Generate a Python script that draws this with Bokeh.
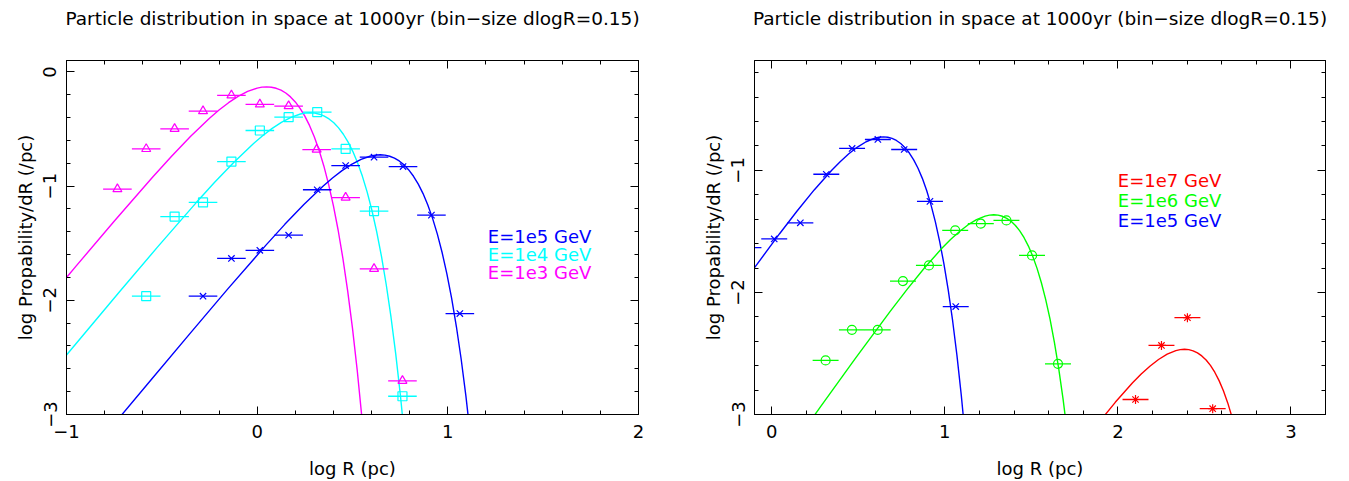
import numpy as np
from bokeh.plotting import figure
from bokeh.layouts import row
from bokeh.models import LinearAxis, FixedTicker
from bokeh.core.properties import value
from bokeh.embed import file_html
from bokeh.resources import INLINE

TITLE = "Particle distribution in space at 1000yr (bin\u2212size dlogR=0.15)"
XLABEL = "log R (pc)"
YLABEL = "log Propability/dR (/pc)"
BIN = 0.15  # bin size dlogR

# ---------------- measured points (log R, log P) ----------------
e3_x = [-0.733, -0.582, -0.433, -0.284, -0.135, 0.014, 0.165, 0.312, 0.464, 0.613, 0.762]
e3_y = [-1.026, -0.674, -0.498, -0.343, -0.205, -0.284, -0.299, -0.680, -1.100, -1.724, -2.705]

e4_x = [-0.582, -0.433, -0.284, -0.135, 0.014, 0.165, 0.315, 0.464, 0.613, 0.762]
e4_y = [-1.964, -1.267, -1.143, -0.785, -0.513, -0.396, -0.352, -0.674, -1.219, -2.840]

e5_x = [-0.284, -0.135, 0.014, 0.165, 0.315, 0.464, 0.613, 0.765, 0.914, 1.063]
e5_y = [-1.964, -1.633, -1.562, -1.430, -1.032, -0.820, -0.747, -0.829, -1.254, -2.116]

e6_x = [0.311, 0.463, 0.612, 0.758, 0.908, 1.060, 1.208, 1.356, 1.504, 1.654]
e6_y = [-2.557, -2.306, -2.306, -1.907, -1.779, -1.492, -1.437, -1.410, -1.697, -2.585]

e7_x = [2.102, 2.252, 2.402, 2.548]
e7_y = [-2.877, -2.434, -2.207, -2.952]

# ---------------- model curves ----------------
c3_x = [-1.15, -0.95, -0.75, -0.55, -0.45, -0.35, -0.25, -0.20, -0.15, -0.10, -0.05, 0.00, 0.025, 0.05,
        0.075, 0.10, 0.125, 0.15, 0.175, 0.20, 0.225, 0.25, 0.275, 0.30, 0.325, 0.35, 0.375, 0.40,
        0.425, 0.45, 0.475, 0.50, 0.525, 0.55, 0.575]
c3_y = [-2.0982, -1.7008, -1.3074, -0.9239, -0.7399, -0.5653, -0.4056, -0.3338, -0.2694, -0.2142,
        -0.1705, -0.1415, -0.1336, -0.1308, -0.1338, -0.1433, -0.1600, -0.1848, -0.2188, -0.2630,
        -0.3188, -0.3874, -0.4705, -0.5699, -0.6874, -0.8255, -0.9864, -1.1732, -1.3887, -1.6367,
        -1.9211, -2.2463, -2.6172, -3.0395, -3.5194]

c4_x = [-1.123, -0.923, -0.723, -0.523, -0.323, -0.223, -0.123, -0.023, 0.027, 0.077, 0.127, 0.177,
        0.227, 0.252, 0.277, 0.302, 0.327, 0.352, 0.377, 0.402, 0.427, 0.452, 0.477, 0.502, 0.527,
        0.552, 0.577, 0.602, 0.627, 0.652, 0.677, 0.702, 0.727, 0.752, 0.777]
c4_y = [-2.7242, -2.3252, -1.9278, -1.5344, -1.1509, -0.9669, -0.7923, -0.6326, -0.5608, -0.4964,
        -0.4412, -0.3975, -0.3685, -0.3606, -0.3578, -0.3608, -0.3703, -0.3870, -0.4118, -0.4458,
        -0.4900, -0.5458, -0.6144, -0.6975, -0.7969, -0.9144, -1.0525, -1.2134, -1.4002, -1.6157,
        -1.8637, -2.1481, -2.4733, -2.8442, -3.2665]

c5_x = [-0.855, -0.755, -0.555, -0.355, -0.155, 0.045, 0.145, 0.245, 0.345, 0.395, 0.445, 0.495,
        0.545, 0.595, 0.620, 0.645, 0.670, 0.695, 0.720, 0.745, 0.770, 0.795, 0.820, 0.845, 0.870,
        0.895, 0.920, 0.945, 0.970, 0.995, 1.020, 1.045, 1.070, 1.095, 1.120]
c5_y = [-3.2919, -3.0922, -2.6932, -2.2958, -1.9024, -1.5189, -1.3349, -1.1603, -1.0006, -0.9288,
        -0.8644, -0.8092, -0.7655, -0.7365, -0.7286, -0.7258, -0.7288, -0.7383, -0.7550, -0.7798,
        -0.8138, -0.8580, -0.9138, -0.9824, -1.0655, -1.1649, -1.2824, -1.4205, -1.5814, -1.7682,
        -1.9837, -2.2317, -2.5161, -2.8413, -3.2122]

c6_x = [0.083, 0.283, 0.483, 0.683, 0.783, 0.883, 0.983, 1.033, 1.083, 1.133, 1.183, 1.233, 1.258,
        1.283, 1.308, 1.333, 1.358, 1.383, 1.408, 1.433, 1.458, 1.483, 1.508, 1.533, 1.558, 1.583,
        1.608, 1.633, 1.658, 1.683, 1.708]
c6_y = [-3.3312, -2.9338, -2.5404, -2.1569, -1.9729, -1.7983, -1.6386, -1.5668, -1.5024, -1.4472,
        -1.4035, -1.3745, -1.3666, -1.3638, -1.3668, -1.3763, -1.3930, -1.4178, -1.4518, -1.4960,
        -1.5518, -1.6204, -1.7035, -1.8029, -1.9204, -2.0585, -2.2194, -2.4062, -2.6217, -2.8697,
        -3.1541]

c7_x = [1.785, 1.885, 1.985, 2.085, 2.135, 2.185, 2.235, 2.285, 2.335, 2.360, 2.385, 2.410, 2.435,
        2.460, 2.485, 2.510, 2.535, 2.560, 2.585, 2.610, 2.635, 2.660, 2.685]
c7_y = [-3.2589, -3.0749, -2.9003, -2.7406, -2.6688, -2.6044, -2.5492, -2.5055, -2.4765, -2.4686,
        -2.4658, -2.4688, -2.4783, -2.4950, -2.5198, -2.5538, -2.5980, -2.6538, -2.7224, -2.8055,
        -2.9049, -3.0224, -3.1605]

left_labels = ["E=1e5 GeV", "E=1e4 GeV", "E=1e3 GeV"]
right_labels = ["E=1e7 GeV", "E=1e6 GeV", "E=1e5 GeV"]

MAGENTA = "#ff00ff"
CYAN = "#00ffff"
BLUE = "#0000ff"
GREEN = "#00ff00"
RED = "#ff0000"
FONT = "DejaVu Sans"
FS = "18px"


def minus(v):
    return ("%g" % v).replace("-", "\u2212")


def style_axis(ax, major, minor, label_vertical=False, show_labels=True):
    ax.ticker = FixedTicker(ticks=major, minor_ticks=minor)
    ax.major_tick_in = 8
    ax.major_tick_out = 0
    ax.minor_tick_in = 4
    ax.minor_tick_out = 0
    ax.axis_line_color = "black"
    ax.major_tick_line_color = "black"
    ax.minor_tick_line_color = "black"
    ax.major_label_text_font = FONT
    ax.axis_label_text_font = FONT
    ax.axis_label_text_font_style = "normal"
    ax.axis_label_text_font_size = FS
    ax.axis_label_text_color = "black"
    ax.major_label_text_color = "black"
    ax.major_label_text_font_size = FS
    if show_labels:
        ax.major_label_overrides = {t: minus(t) for t in major}
    else:
        ax.major_label_overrides = {t: "" for t in major}
        ax.major_label_standoff = 0
    if label_vertical:
        ax.major_label_orientation = "vertical"


def make_fig(width, xr, yr, xmaj, xmin, ymaj, ymin, bl, br):
    p = figure(width=width, height=481, x_range=xr, y_range=yr,
               output_backend="svg", toolbar_location=None,
               min_border_left=bl, min_border_right=br,
               min_border_top=60, min_border_bottom=67,
               x_axis_label=XLABEL, y_axis_label=YLABEL)
    p.xgrid.visible = False
    p.ygrid.visible = False
    p.outline_line_color = "black"
    p.outline_line_alpha = 1.0
    style_axis(p.xaxis[0], xmaj, xmin)
    p.xaxis[0].major_label_standoff = 10
    p.xaxis[0].axis_label_standoff = 17
    style_axis(p.yaxis[0], ymaj, ymin, label_vertical=True)
    p.yaxis[0].major_label_standoff = 10
    p.yaxis[0].axis_label_standoff = 5
    # top axis carries the plot title as its axis label
    top = LinearAxis(axis_label=TITLE)
    style_axis(top, xmaj, xmin, show_labels=False)
    top.axis_label_text_font_size = "18.5px"
    top.axis_label_standoff = 32
    p.add_layout(top, "above")
    right = LinearAxis()
    style_axis(right, ymaj, ymin, show_labels=False)
    p.add_layout(right, "right")
    return p


def points(p, xs, ys, color, marker):
    p.segment(x0=[x - BIN / 2 for x in xs], x1=[x + BIN / 2 for x in xs], y0=ys, y1=ys,
              line_color=color, line_width=1.3)
    p.scatter(xs, ys, marker=marker, size=9, fill_color=None, line_color=color, line_width=1.2)


# ---------------- left panel ----------------
p1 = make_fig(690, (-1, 2), (-3, 0.1), [-1, 0, 1, 2],
              [round(v, 2) for v in np.arange(-1, 2.001, 0.2)],
              [0, -1, -2, -3], [round(v, 2) for v in np.arange(-3, 0.101, 0.2)],
              66, 52)
p1.line(c3_x, c3_y, line_color=MAGENTA, line_width=1.4)
p1.line(c4_x, c4_y, line_color=CYAN, line_width=1.4)
p1.line(c5_x, c5_y, line_color=BLUE, line_width=1.4)
points(p1, e3_x, e3_y, MAGENTA, "triangle")
points(p1, e4_x, e4_y, CYAN, "square")
points(p1, e5_x, e5_y, BLUE, "x")
p1.text(x=[1.21, 1.21, 1.21], y=[-1.438, -1.596, -1.753], text=left_labels,
        text_color=[BLUE, CYAN, MAGENTA], text_font=value(FONT), text_font_size=FS,
        text_baseline="middle", text_align="left")

# ---------------- right panel ----------------
p2 = make_fig(659, (-0.1, 3.2), (-3, -0.1), [0, 1, 2, 3],
              [round(v, 2) for v in np.arange(0, 3.201, 0.2)],
              [-1, -2, -3], [round(v, 2) for v in np.arange(-3, -0.099, 0.2)],
              64, 24)
p2.line(c5_x, c5_y, line_color=BLUE, line_width=1.4)
p2.line(c6_x, c6_y, line_color=GREEN, line_width=1.4)
p2.line(c7_x, c7_y, line_color=RED, line_width=1.4)
points(p2, e5_x, e5_y, BLUE, "x")
points(p2, e6_x, e6_y, GREEN, "circle")
points(p2, e7_x, e7_y, RED, "asterisk")
p2.text(x=[2.0, 2.0, 2.0], y=[-1.086, -1.25, -1.414], text=right_labels,
        text_color=[RED, GREEN, BLUE], text_font=value(FONT), text_font_size=FS,
        text_baseline="middle", text_align="left")

layout = row(p1, p2)
open("out.html", "w").write(file_html(layout, INLINE))
